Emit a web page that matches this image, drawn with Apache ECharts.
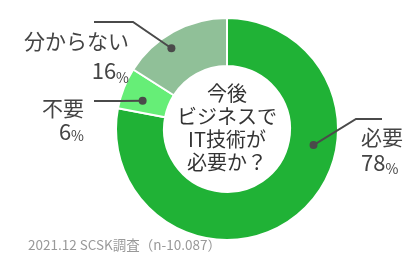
<!DOCTYPE html>
<html>
<head>
<meta charset="utf-8">
<script src="https://cdn.jsdelivr.net/npm/echarts@6/dist/echarts.min.js"></script>
<style>
html,body{margin:0;padding:0;background:#fff;}
#c{width:420px;height:264px;}
</style>
</head>
<body>
<div id="c"></div>
<script>
// ---- data ----
const categories = ['必要', '不要', '分からない'];
const values = [78, 6, 16];
const centerLines = ['今後', 'ビジネスで', 'IT技術が', '必要か？'];
const footnote = '2021.12 SCSK調査（n-10.087）';

// ---- style / layout ----
const colors = ['#20b236', '#66ee77', '#90c098'];
const FONT = '"Noto Sans CJK JP", "Noto Sans", sans-serif';
const CX = 227, CY = 129, R0 = 63, R1 = 111;
const anchorFrac = [0.358, 0.36, 0.40];
const anchorR = [88, 89, 98];
const labelCfg = [
  {x: 361, y: 150, align: 'left', lh: 26, elbow: [356, 119], end: [382, 119]},
  {x: 84, y: 120, align: 'right', lh: 23, elbow: [118, 101], end: [94, 101]},
  {x: 129, y: 56, align: 'right', lh: 29, elbow: [133, 22], end: [94, 22]}
];

const total = values.reduce((a, b) => a + b, 0);
// anchor point (dot) for each slice, computed from the data angles
const anchors = [];
let acc = 0;
values.forEach((v, i) => {
  const a0 = acc / total * 360, a1 = (acc + v) / total * 360;
  acc += v;
  const ang = (a0 + (a1 - a0) * anchorFrac[i]) * Math.PI / 180; // clockwise from top
  anchors.push([CX + anchorR[i] * Math.sin(ang), CY - anchorR[i] * Math.cos(ang)]);
});

const data = categories.map((n, i) => ({
  name: n, value: values[i],
  itemStyle: {color: colors[i]},
  label: {lineHeight: labelCfg[i].lh, rich: {
    n: {fontSize: 21, lineHeight: labelCfg[i].lh, color: '#444', fontFamily: FONT},
    v: {fontSize: 22, lineHeight: labelCfg[i].lh, color: '#444', fontFamily: FONT},
    p: {fontSize: 14, lineHeight: labelCfg[i].lh, color: '#444', fontFamily: FONT, verticalAlign: 'bottom'}
  }}
}));

const chart = echarts.init(document.getElementById('c'), null, {renderer: 'canvas'});
chart.setOption({
  animation: false,
  series: [{
    type: 'pie',
    center: [CX, CY],
    radius: [R0, R1],
    startAngle: 90,
    clockwise: true,
    avoidLabelOverlap: false,
    itemStyle: {borderColor: '#fff', borderWidth: 2},
    label: {
      show: true,
      position: 'outside',
      formatter: p => '{n|' + p.name + '}\n{v|' + p.value + '}{p|%}'
    },
    labelLine: {show: false},
    labelLayout: function (params) {
      const c = labelCfg[params.dataIndex];
      return {x: c.x, y: c.y, align: c.align, verticalAlign: 'middle'};
    },
    emphasis: {disabled: true},
    data: data
  }],
  graphic: [
    {
      type: 'text', x: CX, y: 128,
      style: {
        text: centerLines.join('\n'), fill: '#333',
        font: '20px ' + FONT, lineHeight: 23,
        textAlign: 'center', textVerticalAlign: 'middle', align: 'center', verticalAlign: 'middle'
      }
    },
    {
      type: 'text', x: 28, y: 245,
      style: {
        text: footnote, fill: '#999', font: '13.5px ' + FONT,
        textVerticalAlign: 'middle', verticalAlign: 'middle'
      }
    }
  ].concat(anchors.map((a, i) => ({
    type: 'polyline', shape: {points: [a, labelCfg[i].elbow, labelCfg[i].end]},
    style: {stroke: '#4a4a4a', lineWidth: 2, fill: null}, z: 10
  }))).concat(anchors.map(a => ({
    type: 'circle', shape: {cx: a[0], cy: a[1], r: 4}, style: {fill: '#4a4a4a'}, z: 11
  })))
});
</script>
</body>
</html>
